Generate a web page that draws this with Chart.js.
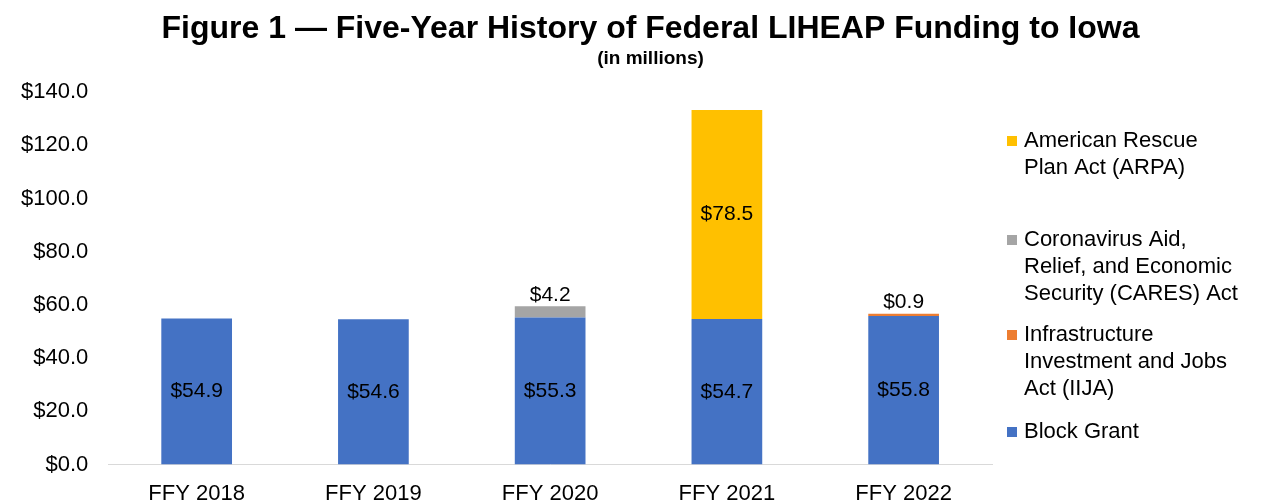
<!DOCTYPE html>
<html>
<head>
<meta charset="utf-8">
<title>Federal LIHEAP Funding to Iowa</title>
<script src="https://cdn.jsdelivr.net/npm/chart.js@4.4.1/dist/chart.umd.min.js"></script>
<style>
  html, body { margin: 0; padding: 0; background: #fff; }
  #wrap { width: 1265px; height: 504px; }
</style>
</head>
<body>
<div id="wrap"><canvas id="fundingChart"></canvas></div>
<script>
// values in millions
const years = ['FFY 2018', 'FFY 2019', 'FFY 2020', 'FFY 2021', 'FFY 2022'];
const blockGrant = [54.9, 54.6, 55.3, 54.7, 55.8];
const iija = [null, null, null, null, 0.9];
const cares = [null, null, 4.2, null, null];
const arpa = [null, null, null, 78.5, null];
const yMin = 0, yMax = 140, yStep = 20;

const titleText = 'Figure 1 \u2014 Five-Year History of Federal LIHEAP Funding to Iowa';
const subtitleText = '(in millions)';

const FONT = '"Liberation Sans", Arial, sans-serif';

// title block centred on the whole figure (not just the plot area)
const figureTitle = {
    id: 'figureTitle',
    afterDraw(chart) {
        const ctx = chart.ctx;
        const cx = chart.width / 2 + 18;
        ctx.save();
        ctx.fillStyle = '#000';
        ctx.textAlign = 'center';
        ctx.textBaseline = 'middle';
        ctx.font = 'bold 32px ' + FONT;
        ctx.fillText(titleText, cx, 29);
        ctx.font = 'bold 19px ' + FONT;
        ctx.fillText(subtitleText, cx, 59);
        ctx.restore();
    }
};

// data labels: inside the segment or above the stack
const barLabels = {
    id: 'barLabels',
    afterDatasetsDraw(chart) {
        const ctx = chart.ctx;
        ctx.save();
        ctx.font = '21px ' + FONT;
        ctx.fillStyle = '#000';
        ctx.textAlign = 'center';
        chart.data.datasets.forEach((ds, i) => {
            chart.getDatasetMeta(i).data.forEach((bar, j) => {
                const v = ds.data[j];
                if (v == null) return;
                const txt = '$' + v.toFixed(1);
                if (ds.labelPos === 'top') {
                    ctx.textBaseline = 'bottom';
                    ctx.fillText(txt, bar.x, bar.y - 1);
                } else {
                    ctx.textBaseline = 'middle';
                    ctx.fillText(txt, bar.x, (bar.y + bar.base) / 2);
                }
            });
        });
        ctx.restore();
    }
};

// right-hand legend with wrapped labels, top entry = last dataset
const sideLegend = {
    id: 'sideLegend',
    afterDraw(chart) {
        const ctx = chart.ctx;
        const x = chart.chartArea.right + 15;
        const tops = [141, 240, 335, 432];
        const lh = 27;
        ctx.save();
        ctx.font = '22px ' + FONT;
        ctx.textBaseline = 'middle';
        ctx.textAlign = 'left';
        chart.data.datasets.slice().reverse().forEach((ds, k) => {
            const y0 = tops[k];
            ctx.fillStyle = ds.backgroundColor;
            ctx.fillRect(x, y0 - 5, 10, 10);
            ctx.fillStyle = '#000';
            ds.legendLines.forEach((line, n) => ctx.fillText(line, x + 17, y0 + n * lh));
        });
        ctx.restore();
    }
};

new Chart(document.getElementById('fundingChart'), {
    type: 'bar',
    data: {
        labels: years,
        datasets: [
            { label: 'Block Grant', legendLines: ['Block Grant'], data: blockGrant, backgroundColor: '#4472C4', labelPos: 'inside' },
            { label: 'Infrastructure Investment and Jobs Act (IIJA)', legendLines: ['Infrastructure', 'Investment and Jobs', 'Act (IIJA)'], data: iija, backgroundColor: '#ED7D31', labelPos: 'top' },
            { label: 'Coronavirus Aid, Relief, and Economic Security (CARES) Act', legendLines: ['Coronavirus Aid,', 'Relief, and Economic', 'Security (CARES) Act'], data: cares, backgroundColor: '#A5A5A5', labelPos: 'top' },
            { label: 'American Rescue Plan Act (ARPA)', legendLines: ['American Rescue', 'Plan Act (ARPA)'], data: arpa, backgroundColor: '#FFC000', labelPos: 'inside' }
        ]
    },
    options: {
        responsive: true,
        maintainAspectRatio: false,
        animation: false,
        categoryPercentage: 1.0,
        barPercentage: 0.4,
        layout: { padding: { left: 1, right: 273, top: 92, bottom: -19 } },
        plugins: {
            legend: { display: false },
            tooltip: { enabled: false },
            title: { display: false }
        },
        scales: {
            x: {
                stacked: true,
                grid: { display: false, drawTicks: false },
                border: { display: true, color: '#D9D9D9', width: 1 },
                ticks: { color: '#000', font: { family: FONT, size: 22 }, padding: 16 }
            },
            y: {
                stacked: true,
                min: yMin,
                max: yMax,
                grid: { display: false, drawTicks: false },
                border: { display: false },
                ticks: {
                    stepSize: yStep,
                    color: '#000',
                    padding: 20,
                    font: { family: FONT, size: 22 },
                    callback: v => '$' + Number(v).toFixed(1)
                }
            }
        }
    },
    plugins: [barLabels, sideLegend, figureTitle]
});
</script>
</body>
</html>
